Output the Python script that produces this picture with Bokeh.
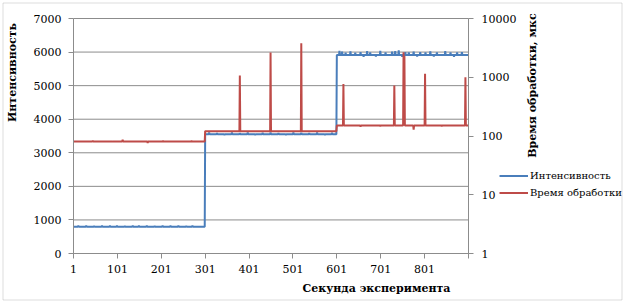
import math
from bokeh.plotting import figure
from bokeh.models import (Range1d, LogScale, LogAxis, FixedTicker, BoxAnnotation,
                          Legend, LegendItem, Label, ColumnDataSource,
                          CustomJSTickFormatter)
from bokeh.embed import file_html
from bokeh.resources import INLINE

# ---- data ----
seconds = list(range(1, 901))

# intensity: level per segment (start, end, value) + deviations at given seconds
intensity_segments = [(1, 300, 800), (301, 600, 3555), (601, 900, 5910)]
intensity_noise = {
    12: 825, 30: 830, 48: 820, 66: 830, 84: 825, 100: 830, 118: 820, 136: 830,
    150: 825, 168: 830, 186: 820, 204: 830, 222: 825, 240: 830, 258: 820, 272: 830,
    310: 3600, 328: 3590, 345: 3530, 362: 3600, 380: 3590, 398: 3600, 415: 3530,
    432: 3595, 450: 3600, 468: 3590, 485: 3530, 502: 3600, 520: 3595, 538: 3590,
    556: 3600, 574: 3530, 590: 3595,
    607: 6040, 613: 6010, 621: 5980, 632: 6020, 643: 5980, 655: 6000, 662: 5860,
    670: 6030, 677: 5990, 690: 5870, 700: 6040, 712: 5990, 727: 6010, 734: 6030,
    742: 6050, 750: 5860, 757: 6000, 765: 5990, 776: 6010, 784: 5870, 791: 6000,
    803: 5990, 814: 6020, 822: 5870, 829: 5990, 848: 6030, 860: 5990, 868: 5860,
    875: 5990, 886: 6000,
}

# processing time (log axis): level per segment + spikes/dips at given seconds
time_segments = [(1, 300, 81), (301, 600, 121), (601, 900, 151)]
time_noise = {
    45: 83, 90: 79, 113: 86, 140: 80, 170: 76, 205: 82, 240: 80, 270: 82,
    380: 1070, 450: 2640, 520: 3800,
    616: 770, 655: 145, 700: 147, 732: 725, 753: 2670, 755: 2300,
    776: 128, 802: 1145, 840: 147, 894: 1000,
}

series_names = ["Интенсивность", "Время обработки"]
left_ticks = [0, 1000, 2000, 3000, 4000, 5000, 6000, 7000]
right_ticks = [1, 10, 100, 1000, 10000]
x_ticks = [1, 101, 201, 301, 401, 501, 601, 701, 801, 901]
x_title = "Секунда эксперимента"
y_title = "Интенсивность"
y2_title = "Время обработки, мкс"


def build(segments, noise):
    out = []
    for s in seconds:
        v = None
        for a, b, lvl in segments:
            if a <= s <= b:
                v = lvl
        out.append(noise.get(s, v))
    return out


intensity = build(intensity_segments, intensity_noise)
proc_time = build(time_segments, time_noise)
src = ColumnDataSource(dict(x=seconds, inten=intensity, t=proc_time))

# ---- layout (page pixels) ----
W, H = 624, 301            # figure size; figure sits at page (0, 0)
OX, OY = 0, 0
PL, PR, PT, PB = 73, 468, 18, 253   # plot area in page pixels
XMIN, XMAX = 1, 901
YMIN, YMAX = 0, 7000
LMIN, LMAX = 0, 4          # log10 of right axis

kx = (PR - PL) / (XMAX - XMIN)
ky = (PB - PT) / (YMAX - YMIN)
kl = (PB - PT) / (LMAX - LMIN)
x_rng = Range1d(XMIN - (PL - OX) / kx, XMAX + (OX + W - PR) / kx)
y_rng = Range1d(YMIN - (OY + H - PB) / ky, YMAX + (PT - OY) / ky)
log_rng = Range1d(10 ** (LMIN - (OY + H - PB) / kl), 10 ** (LMAX + (PT - OY) / kl))


def sx(page_x):
    return page_x - OX


def sy(page_y):
    return OY + H - page_y


BLUE = "#4a7ebb"
RED = "#be4b48"
GRAY = "#8c8c8c"
FONT = "DejaVu Serif"

p = figure(width=W, height=H, x_range=x_rng, y_range=y_rng,
           output_backend="svg", toolbar_location=None,
           min_border_left=0, min_border_right=0, min_border_top=0,
           min_border_bottom=0)
p.extra_y_ranges = {"log": log_rng}
p.extra_y_scales = {"log": LogScale()}
p.outline_line_color = None
p.background_fill_color = "white"
p.border_fill_color = "white"
p.xgrid.visible = False
p.ygrid.visible = False

# outer chart border
p.add_layout(BoxAnnotation(left=sx(2.5), right=sx(621.5), top=sy(2.5), bottom=sy(299.5),
                           left_units="screen", right_units="screen",
                           top_units="screen", bottom_units="screen",
                           fill_alpha=0, line_color="#8a8a8a", line_width=1,
                           level="underlay"))

# horizontal grid lines at the left-axis ticks, across the plot area only
p.segment(x0=[XMIN] * len(left_ticks), x1=[XMAX] * len(left_ticks),
          y0=left_ticks, y1=left_ticks, line_color=GRAY, line_width=1)


def style_axis(ax, standoff):
    ax.axis_line_color = GRAY
    ax.major_tick_line_color = GRAY
    ax.major_tick_out = 5
    ax.major_tick_in = 0
    ax.minor_tick_line_color = None
    ax.major_label_text_font = FONT
    ax.major_label_text_font_size = "11px"
    ax.major_label_text_color = "black"
    ax.major_label_standoff = standoff


xa = p.xaxis[0]
style_axis(xa, 6)
xa.ticker = FixedTicker(ticks=x_ticks)
xa.major_label_overrides = {901: ""}
xa.fixed_location = YMIN
xa.bounds = (XMIN, XMAX)

ya = p.yaxis[0]
style_axis(ya, 7)
ya.ticker = FixedTicker(ticks=left_ticks)
ya.fixed_location = XMIN
ya.bounds = (YMIN, YMAX)

rax = LogAxis(y_range_name="log", ticker=FixedTicker(ticks=right_ticks))
style_axis(rax, 8)
rax.formatter = CustomJSTickFormatter(code="return tick.toFixed(0);")
rax.fixed_location = XMAX
rax.bounds = (10 ** LMIN, 10 ** LMAX)
p.add_layout(rax, "right")

r1 = p.line("x", "inten", source=src, line_color=BLUE, line_width=2)
r2 = p.line("x", "t", source=src, line_color=RED, line_width=2, y_range_name="log")

legend = Legend(items=[LegendItem(label=series_names[0], renderers=[r1]),
                       LegendItem(label=series_names[1], renderers=[r2])],
                location=(sx(499), sy(201)), orientation="vertical")
legend.padding = 0
legend.margin = 0
legend.spacing = 0
legend.glyph_width = 29
legend.glyph_height = 17
legend.label_standoff = 2
legend.label_text_font = FONT
legend.label_text_font_size = "10px"
legend.label_text_color = "black"
legend.label_height = 17
legend.border_line_color = None
legend.background_fill_alpha = 0
p.add_layout(legend)

lab_kw = dict(x_units="screen", y_units="screen", text_font=FONT,
              text_font_size="11px", text_font_style="bold", text_color="black",
              text_align="center", text_baseline="middle")
p.add_layout(Label(x=sx(12), y=sy(72), text=y_title, angle=math.pi / 2, **lab_kw))
p.add_layout(Label(x=sx(532), y=sy(85), text=y2_title, angle=math.pi / 2, **lab_kw))
p.add_layout(Label(x=sx(376), y=sy(288), text=x_title, **lab_kw))

open("out.html", "w").write(file_html(p, INLINE))
